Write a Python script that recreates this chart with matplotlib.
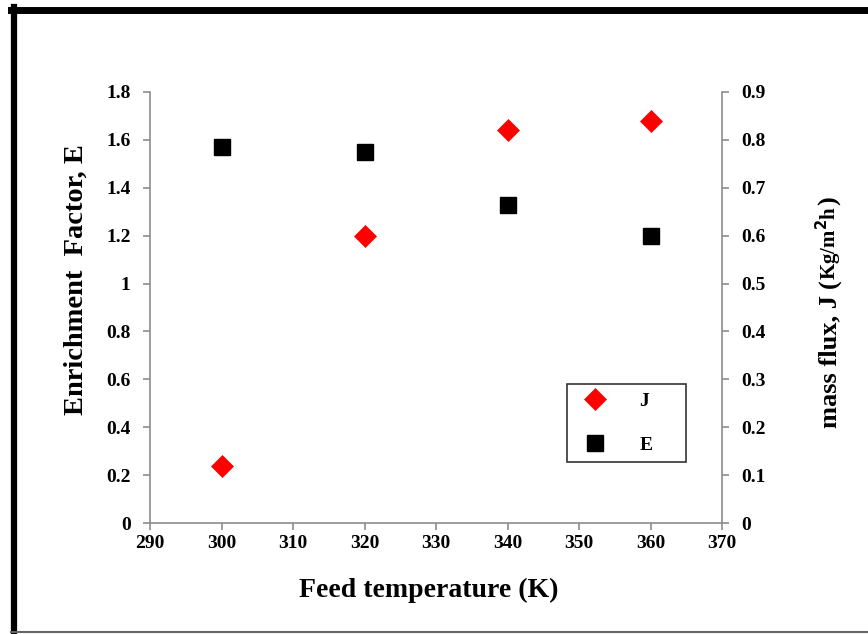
import numpy as np
import matplotlib.pyplot as plt
from matplotlib.lines import Line2D

plt.rcParams["font.family"] = "Liberation Serif"
plt.rcParams["font.weight"] = "bold"

# feed temperature (K)
temps = [300, 320, 340, 360]
# enrichment factor E (left axis)
E = [1.57, 1.55, 1.33, 1.20]
# mass flux J, Kg/m2h (right axis)
J = [0.12, 0.60, 0.82, 0.84]

xticks = np.arange(290, 371, 10)
e_ticks = [0, 0.2, 0.4, 0.6, 0.8, 1, 1.2, 1.4, 1.6, 1.8]
j_ticks = [0, 0.1, 0.2, 0.3, 0.4, 0.5, 0.6, 0.7, 0.8, 0.9]

grey = "#8c8c8c"

fig = plt.figure(figsize=(8.68, 6.34), dpi=100)
ax = fig.add_axes([150/868, 1-523/634, 572/868, 431/634])
ax2 = ax.twinx()

lE, = ax.plot(temps, E, ls="none", marker="s", ms=11.5, color="black",
              mec="black", mew=1.0, mfc="black", label="E")
lJ, = ax2.plot(temps, J, ls="none", marker="D", ms=10.8, color="red",
               mec="red", mfc="red", mew=0.5, label="J")

ax.set_xlim(290, 370)
ax.set_ylim(0, 1.8)
ax2.set_ylim(0, 0.9)
ax.set_xticks(xticks)
ax.set_yticks(e_ticks)
ax2.set_yticks(j_ticks)
ax.set_yticklabels([("%g" % v) for v in e_ticks])
ax2.set_yticklabels([("%g" % v) for v in j_ticks])

for a in (ax, ax2):
    a.spines["top"].set_visible(False)
    for s in ("left", "right", "bottom"):
        a.spines[s].set_color(grey)
        a.spines[s].set_linewidth(1.2)
    a.tick_params(colors=grey, labelcolor="black", labelsize=14,
                  length=5, width=1.2, pad=9)
ax.tick_params(axis="x", pad=4)
ax.spines["right"].set_visible(False)
ax2.spines["left"].set_visible(False)
ax2.spines["bottom"].set_visible(False)

ax.set_xlabel("Feed temperature (K)", fontsize=20, fontweight="bold")
ax.set_ylabel("Enrichment  Factor, E", fontsize=20.5, fontweight="bold")
ax.xaxis.set_label_coords(0.488, -0.127)
ax.yaxis.set_label_coords(-0.108, 0.565)

# right axis label: "mass flux, J" then units in a smaller size
renderer = fig.canvas.get_renderer()
xb = 836 / 868
y = 1 - 428/634
for s, size in [("mass flux, J ", 19), ("(", 19), ("Kg/m$^\\mathbf{2}$h", 15), (")", 19)]:
    t = fig.text(xb, y, s, rotation=90, rotation_mode="anchor", fontsize=size,
                 fontweight="bold", ha="left", va="baseline")
    bb = t.get_window_extent(renderer)
    y += bb.height / fig.bbox.height

leg = ax.legend(handles=[lJ, lE], labels=["J", "E"], loc="lower left",
                bbox_to_anchor=(417/572, 61/431, 119/572, 77/431), mode="expand",
                fancybox=False, edgecolor="#333333", framealpha=1, fontsize=14,
                handletextpad=1.3, labelspacing=1.35, borderpad=0.42,
                handlelength=2.0, borderaxespad=0)
leg.get_frame().set_linewidth(1.2)
for t in leg.get_texts():
    t.set_fontweight("bold")

# outer frame
fig.add_artist(Line2D([11/868, 1], [1-9.5/634, 1-9.5/634], color="black", lw=5,
                      transform=fig.transFigure))
fig.add_artist(Line2D([14/868, 14/868], [1-7/634, 1-632/634], color="black", lw=4.5,
                      transform=fig.transFigure))
fig.add_artist(Line2D([11/868, 1], [1-632/634, 1-632/634], color="#666666", lw=1.5,
                      transform=fig.transFigure))

fig.savefig("out.png", dpi=100)
